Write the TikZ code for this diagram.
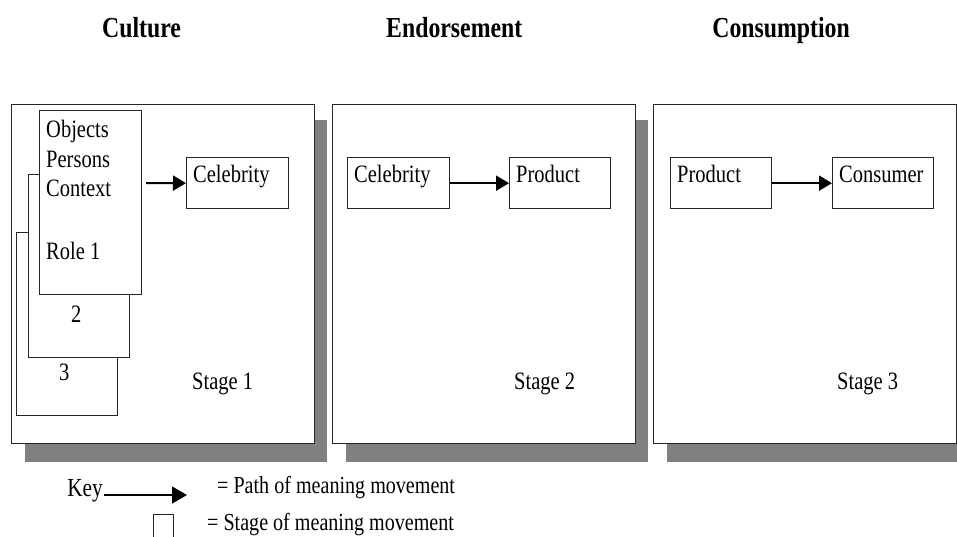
\documentclass[tikz,border=0pt]{standalone}
\usepackage{fontspec}
\setmainfont{Liberation Serif}[FakeStretch=0.82]
\usetikzlibrary{arrows.meta}
\tikzset{
  bx/.style={draw=black!85, line width=1.3pt, fill=white, inner sep=0pt, anchor=north west},
  stagebox/.style={bx, minimum width=303pt, minimum height=339pt},
  shadowbox/.style={fill=black!50, draw=none, inner sep=0pt, anchor=north west, minimum width=302pt, minimum height=342pt},
  smallbox/.style={bx, minimum width=102pt, minimum height=51pt},
  tallbox/.style={bx, minimum width=101pt, minimum height=183pt},
  txt/.style={anchor=base west, inner sep=0pt, font=\fontsize{25}{30}\selectfont},
  ttl/.style={anchor=base west, inner sep=0pt, font=\fontsize{29}{34}\selectfont\bfseries},
  keytxt/.style={anchor=base west, inner sep=0pt, font=\fontsize{24.5}{29}\selectfont},
  arr/.style={line width=2pt, -{Triangle[length=13pt,width=15pt]}},
  keyarr/.style={line width=1.4pt, -{Triangle[length=15pt,width=17pt]}}
}
\begin{document}
\begin{tikzpicture}[x=1pt,y=-1pt]
\useasboundingbox (0,0) rectangle (957,536);
% titles
\node[ttl] (t1) at (102,37) {Culture};
\node[ttl] (t2) at (386,37) {Endorsement};
\node[ttl, anchor=base east] (t3) at (850,37) {Consumption};
% shadows
\node[shadowbox] (sh1) at (25,120) {};
\node[shadowbox] (sh2) at (346,120) {};
\node[shadowbox] (sh3) at (667,120) {};
% stage boxes
\node[stagebox] (s1) at (11,104) {};
\node[stagebox] (s2) at (332,104) {};
\node[stagebox] (s3) at (653,104) {};
% stage 1 stacked boxes
\node[tallbox] (r3) at (16,232) {};
\node[tallbox] (r2) at (28,174) {};
\node[tallbox, minimum width=102pt, minimum height=184pt] (r1) at (39,110) {};
\node[txt] at (46,137) {Objects};
\node[txt] at (46,167) {Persons};
\node[txt] at (46,196) {Context};
\node[txt] at (46,259) {Role 1};
\node[txt] at (71,322) {2};
\node[txt] at (59,380) {3};
\node[smallbox] (c1) at (186,157) {};
\node[txt] at ([shift={(7,25)}]c1.north west) {Celebrity};
\node[txt] (st1) at (192,389) {Stage 1};
\coordinate (a1) at (146,183);
\draw[arr] (a1) -- (c1.west);
% stage 2
\node[smallbox] (c2) at (347,157) {};
\node[txt] at ([shift={(7,25)}]c2.north west) {Celebrity};
\node[smallbox, minimum width=101pt] (p2) at (509,157) {};
\node[txt] at ([shift={(7,25)}]p2.north west) {Product};
\node[txt] (st2) at (514,389) {Stage 2};
\draw[arr] (c2.east) -- (p2.west);
% stage 3
\node[smallbox, minimum width=101pt] (p3) at (670,157) {};
\node[txt] at ([shift={(7,25)}]p3.north west) {Product};
\node[smallbox, minimum width=101pt] (k3) at (832,157) {};
\node[txt] at ([shift={(7,25)}]k3.north west) {Consumer};
\node[txt] (st3) at (837,389) {Stage 3};
\draw[arr] (p3.east) -- (k3.west);
% key
\node[keytxt, anchor=base east, font=\fontsize{26}{30}\selectfont] (key) at (103,496) {Key};
\coordinate (ke) at (187,495);
\draw[keyarr] ([xshift=1pt,yshift=1pt]key.base east) -- (ke);
\node[keytxt] (k1) at (217,493) {= Path of meaning movement};
\node[draw=black!85, line width=1.3pt, minimum width=20pt, minimum height=24pt, inner sep=0pt, anchor=north west] (ksq) at (153,514) {};
\node[keytxt] (k2) at (207,530) {= Stage of meaning movement};
\end{tikzpicture}
\end{document}
